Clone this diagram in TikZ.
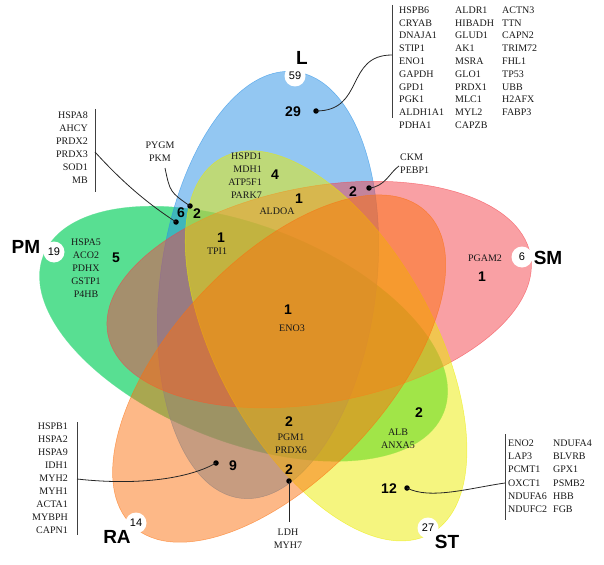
\documentclass[tikz,border=0pt]{standalone}
\usepackage{fontspec}
\setmainfont{Liberation Serif}
\setsansfont{Liberation Sans}
\usetikzlibrary{calc}

\definecolor{lblue}{RGB}{39,143,229}
\definecolor{pmgreen}{RGB}{88,223,146}
\definecolor{smpink}{RGB}{243,65,73}
\definecolor{styellow}{RGB}{235,235,0}
\definecolor{raorange}{RGB}{251,113,15}

\begin{document}
\begin{tikzpicture}[
  x=1pt, y=-1pt,
  petal/.style={fill=#1, draw=#1, line width=0.5pt, draw opacity=0.6},
  setname/.style={font=\sffamily\bfseries\fontsize{19}{19}\selectfont, inner sep=0pt},
  total/.style={circle, fill=white, minimum size=21pt, inner sep=0pt,
                font=\sffamily\fontsize{11}{11}\selectfont},
  cnt/.style={font=\sffamily\bfseries\fontsize{14}{14}\selectfont, inner sep=0pt},
  gene/.style={font=\fontsize{10}{13}\selectfont, inner sep=0pt, text=black!90},
  gdot/.style={circle, fill=black, minimum size=5.5pt, inner sep=0pt},
  leader/.style={draw=black!85, line width=0.8pt},
  listbar/.style={draw=black!75, line width=1pt}
]
\useasboundingbox (0,0) rectangle (604,564);

% ---------------------------------------------- the five petals
\coordinate (ctr) at (287,325);
\foreach \rot/\col/\op in {-284/pmgreen/1, 0/lblue/0.5, -72/smpink/0.5,
                           -143.5/styellow/0.5, -215.6/raorange/0.5}{
  \begin{scope}[rotate around={\rot:(ctr)}]
    \begin{scope}[rotate around={-7.4:(268,285)}]
      \path[petal=\col, fill opacity=\op] (268,285) ellipse [x radius=108pt, y radius=215pt];
    \end{scope}
  \end{scope}
}

% ---------------------------------------------- set names and totals
\node[setname] (nL)  at (302,58)  {L};
\node[setname] (nSM) at (548,258) {SM};
\node[setname] (nST) at (447,542) {ST};
\node[setname] (nRA) at (117,537) {RA};
\node[setname] (nPM) at (26,247)  {PM};

\node[total] (tL)  at (295,76)  {59};
\node[total] (tSM) at (522,257) {6};
\node[total] (tST) at (428,528) {27};
\node[total] (tRA) at (136,523) {14};
\node[total] (tPM) at (54,252)  {19};

% ---------------------------------------------- counts inside the regions
\node[cnt] (k29)  at (293,112) {29};
\node[cnt] (k4)   at (275,175) {4};
\node[cnt] (k1a)  at (299,199) {1};
\node[cnt] (k6)   at (181,213) {6};
\node[cnt] (k2a)  at (197,214) {2};
\node[cnt] (k2b)  at (353,192) {2};
\node[cnt] (k1b)  at (221,238) {1};
\node[cnt] (k5)   at (116,258) {5};
\node[cnt] (k1c)  at (288,310) {1};
\node[cnt] (k1d)  at (482,277) {1};
\node[cnt] (k2c)  at (419,413) {2};
\node[cnt] (k2d)  at (289,422) {2};
\node[cnt] (k9)   at (233,466) {9};
\node[cnt] (k2e)  at (289,470) {2};
\node[cnt] (k12)  at (389,489) {12};

% ---------------------------------------------- genes written in the regions
\node[gene, align=right, anchor=north east] (hspd) at (262,152.6)
  {HSPD1\\MDH1\\ATP5F1\\PARK7};
\node[gene] (aldoa) at (277,211) {ALDOA};
\node[gene] (tpi)   at (217,251) {TPI1};
\node[gene] (eno3)  at (292,328) {ENO3};
\node[gene] (pgam)  at (485,258) {PGAM2};
\node[gene, align=center, anchor=north] (hspa5) at (86,238.6)
  {HSPA5\\ACO2\\PDHX\\GSTP1\\P4HB};
\node[gene, align=center, anchor=north] (alb) at (398,428.6) {ALB\\ANXA5};
\node[gene, align=center, anchor=north] (pgm) at (291,433.6) {PGM1\\PRDX6};

% ---------------------------------------------- genes written outside
\node[gene, align=center, anchor=north] (pygm) at (160,141.6) {PYGM\\PKM};
\node[gene, align=left, anchor=north west] (ckm) at (400,153.6) {CKM\\PEBP1};
\node[gene, align=center, anchor=north] (ldh) at (288,528.6) {LDH\\MYH7};

\node[gene, align=right, anchor=north east] (pmlist) at (88,111.6)
  {HSPA8\\AHCY\\PRDX2\\PRDX3\\SOD1\\MB};
\node[gene, align=right, anchor=north east] (ralist) at (68,422.6)
  {HSPB1\\HSPA2\\HSPA9\\IDH1\\MYH2\\MYH1\\ACTA1\\MYBPH\\CAPN1};

\begin{scope}[gene/.append style={font=\fontsize{10}{12.78}\selectfont}]
\node[gene, align=left, anchor=north west] (lcola) at (399,6.6)
  {HSPB6\\CRYAB\\DNAJA1\\STIP1\\ENO1\\GAPDH\\GPD1\\PGK1\\ALDH1A1\\PDHA1};
\node[gene, align=left, anchor=north west] (lcolb) at (455,6.6)
  {ALDR1\\HIBADH\\GLUD1\\AK1\\MSRA\\GLO1\\PRDX1\\MLC1\\MYL2\\CAPZB};
\node[gene, align=left, anchor=north west] (lcolc) at (502,6.6)
  {ACTN3\\TTN\\CAPN2\\TRIM72\\FHL1\\TP53\\UBB\\H2AFX\\FABP3};
\end{scope}

\begin{scope}[gene/.append style={font=\fontsize{10}{13.2}\selectfont}]
\node[gene, align=left, anchor=north west] (stcola) at (508,439.6)
  {ENO2\\LAP3\\PCMT1\\OXCT1\\NDUFA6\\NDUFC2};
\node[gene, align=left, anchor=north west] (stcolb) at (553,439.6)
  {NDUFA4\\BLVRB\\GPX1\\PSMB2\\HBB\\FGB};
\end{scope}

% ---------------------------------------------- bars beside the lists
\coordinate (lbartop) at (392,5);   \coordinate (lbarbot) at (392,118);
\coordinate (pbartop) at (95,109);  \coordinate (pbarbot) at (95,192);
\coordinate (rbartop) at (77,422);  \coordinate (rbarbot) at (77,535);
\coordinate (sbartop) at (505,434); \coordinate (sbarbot) at (505,520);
\draw[listbar] (lbartop) -- (lbarbot);
\draw[listbar] (pbartop) -- (pbarbot);
\draw[listbar] (rbartop) -- (rbarbot);
\draw[listbar] (sbartop) -- (sbarbot);

% ---------------------------------------------- leaders
\node[gdot] (d29)  at (316,111) {};
\node[gdot] (d6)   at (176,222) {};
\node[gdot] (d2a)  at (190,206) {};
\node[gdot] (d2b)  at (369,188) {};
\node[gdot] (d9)   at (216,463) {};
\node[gdot] (d2e)  at (289,481) {};
\node[gdot] (d12)  at (407,488) {};

\coordinate (lbar)   at (392,55);
\coordinate (pbar)   at (95,152);
\coordinate (rbar)   at (77,479);
\coordinate (sbar)   at (505,483);
\coordinate (pkmend) at (165,168);
\coordinate (ckmend) at (399,166);
\coordinate (ldhend) at (289,522);

\draw[leader] (d29.center) .. controls (365,111) and (345,55) .. (lbar);
\draw[leader] (pbar) .. controls (125,185) and (150,205) .. (d6.center);
\draw[leader] (pkmend) .. controls (170,192) .. (d2a.center);
\draw[leader] (d2b.center) .. controls (385,187) and (390,172) .. (ckmend);
\draw[leader] (rbar) .. controls (140,486) and (190,478) .. (d9.center);
\draw[leader] (d2e.center) -- (ldhend);
\draw[leader] (d12.center) .. controls (430,500) and (470,488) .. (sbar);

\end{tikzpicture}
\end{document}
